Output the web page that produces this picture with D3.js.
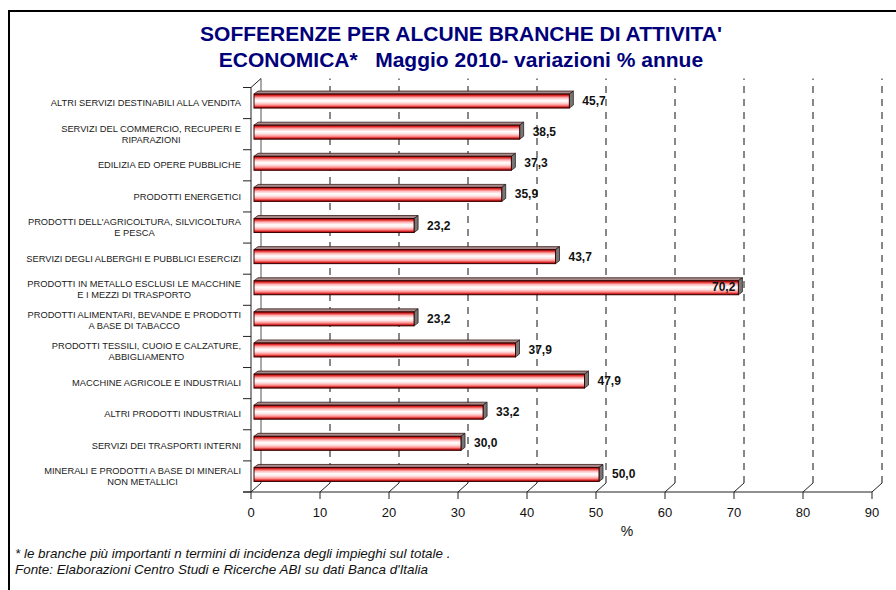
<!DOCTYPE html>
<html>
<head>
<meta charset="utf-8">
<script src="https://cdn.jsdelivr.net/npm/d3@7/dist/d3.min.js"></script>
<style>
  html, body { margin: 0; padding: 0; background: #fff; }
  svg { display: block; font-family: Arial, "Liberation Sans", sans-serif; }
</style>
</head>
<body>
<svg id="chart" width="896" height="590"></svg>
<script>
// ---- DATA ----
const titleLines = ["SOFFERENZE PER ALCUNE BRANCHE DI ATTIVITA'", "ECONOMICA*   Maggio 2010- variazioni % annue"];
const categories = [
  "ALTRI SERVIZI DESTINABILI ALLA VENDITA",
  "SERVIZI DEL COMMERCIO, RECUPERI E\nRIPARAZIONI",
  "EDILIZIA ED OPERE PUBBLICHE",
  "PRODOTTI ENERGETICI",
  "PRODOTTI DELL'AGRICOLTURA, SILVICOLTURA\nE PESCA",
  "SERVIZI DEGLI ALBERGHI E PUBBLICI ESERCIZI",
  "PRODOTTI IN METALLO ESCLUSI LE MACCHINE\nE I MEZZI DI TRASPORTO",
  "PRODOTTI ALIMENTARI, BEVANDE E PRODOTTI\nA BASE DI TABACCO",
  "PRODOTTI TESSILI, CUOIO E CALZATURE,\nABBIGLIAMENTO",
  "MACCHINE AGRICOLE E INDUSTRIALI",
  "ALTRI PRODOTTI INDUSTRIALI",
  "SERVIZI DEI TRASPORTI INTERNI",
  "MINERALI E PRODOTTI A BASE DI MINERALI\nNON METALLICI"
];
const values = [45.7, 38.5, 37.3, 35.9, 23.2, 43.7, 70.2, 23.2, 37.9, 47.9, 33.2, 30.0, 50.0];
const xTicks = [0, 10, 20, 30, 40, 50, 60, 70, 80, 90];
const xAxisTitle = "%";
const footnotes = [
  "* le branche più importanti n termini di incidenza degli impieghi sul totale .",
  "Fonte: Elaborazioni Centro Studi e Ricerche ABI su dati Banca d'Italia"
];

// ---- LAYOUT ----
const svg = d3.select("#chart");
const x = d3.scaleLinear().domain([0, 90]).range([251, 872]);
const y = d3.scaleBand().domain(d3.range(categories.length)).range([87.5, 492]).padding(0);
const backDx = 10, backDy = -9;
const barDx = 4, barDy = -3, barShift = 3;
const yBase = 492, yTop = 87.5;

// frame
svg.append("rect").attr("x", 9).attr("y", 11).attr("width", 900).attr("height", 600)
  .attr("fill", "none").attr("stroke", "#000").attr("stroke-width", 2);

// title
const title = svg.append("text").attr("fill", "#00007a").attr("font-weight", "bold")
  .attr("font-size", 21).attr("text-anchor", "middle").style("white-space", "pre");
titleLines.forEach((t, i) => {
  title.append("tspan").attr("x", 461).attr("y", 41 + i * 25.5).text(t);
});

// gradients
const defs = svg.append("defs");
const g1 = defs.append("linearGradient").attr("id", "front").attr("x1", 0).attr("y1", 0).attr("x2", 0).attr("y2", 1);
[[0, "#900000"], [0.1, "#e02828"], [0.26, "#ffb4b4"], [0.45, "#ffffff"], [0.62, "#ffe4e4"], [0.8, "#ff8c8c"], [0.92, "#d42020"], [1, "#700000"]]
  .forEach(([o, c]) => g1.append("stop").attr("offset", o).attr("stop-color", c));

// back wall / gridlines
const grid = svg.append("g");
xTicks.forEach(v => {
  const gx = x(v) + backDx;
  grid.append("line").attr("x1", gx).attr("x2", gx)
    .attr("y1", yBase + backDy).attr("y2", yTop + backDy)
    .attr("stroke", v === 0 ? "#555" : "#111").attr("stroke-width", 1)
    .attr("stroke-dasharray", v === 0 ? null : "7,6");
  // floor diagonal
  grid.append("line").attr("x1", x(v)).attr("y1", yBase).attr("x2", gx).attr("y2", yBase + backDy)
    .attr("stroke", "#222").attr("stroke-width", 1);
});
// top-left diagonal
grid.append("line").attr("x1", x(0)).attr("y1", yTop).attr("x2", x(0) + backDx).attr("y2", yTop + backDy)
  .attr("stroke", "#222").attr("stroke-width", 1);

// axes
const axes = svg.append("g").attr("stroke", "#222").attr("stroke-width", 1);
axes.append("line").attr("x1", x(0)).attr("x2", x(0)).attr("y1", yTop).attr("y2", yBase);
axes.append("line").attr("x1", x(0) - 8).attr("x2", x(90)).attr("y1", yBase).attr("y2", yBase);
d3.range(categories.length + 1).forEach(i => {
  const yy = i < categories.length ? y(i) : yBase;
  axes.append("line").attr("x1", x(0) - 8).attr("x2", x(0)).attr("y1", yy).attr("y2", yy);
});
xTicks.forEach(v => {
  axes.append("line").attr("x1", x(v)).attr("x2", x(v)).attr("y1", yBase).attr("y2", yBase + 7);
});

// tick labels
svg.append("g").selectAll("text").data(xTicks).join("text")
  .attr("x", d => x(d)).attr("y", 517).attr("text-anchor", "middle")
  .attr("font-size", 13).attr("fill", "#111").text(d => d);
svg.append("text").attr("x", 627).attr("y", 536).attr("text-anchor", "middle")
  .attr("font-size", 14).attr("fill", "#111").text(xAxisTitle);

// category labels
const catG = svg.append("g").attr("font-size", 9.3).attr("fill", "#1a1a1a");
categories.forEach((c, i) => {
  const lines = c.split("\n");
  const cy = y(i) + y.bandwidth() / 2;
  const t = catG.append("text").attr("text-anchor", "middle");
  const spans = lines.map((l, j) => t.append("tspan").text(l)
    .attr("y", lines.length === 1 ? cy + 3.2 : cy - 2.5 + j * 11));
  const maxW = d3.max(spans, s => s.node().getComputedTextLength());
  const cx = x(0) - 10 - maxW / 2;
  spans.forEach(s => s.attr("x", cx));
});

// bars
const bars = svg.append("g");
const fmt = d3.format(".1f");
values.forEach((v, i) => {
  const cy = y(i) + y.bandwidth() / 2;
  const x0 = x(0) + barShift, x1 = x(v) + barShift;
  const t = cy - 9, b = cy + 5;
  // top face
  bars.append("path")
    .attr("d", `M${x0},${t}L${x0 + barDx},${t + barDy}L${x1 + barDx},${t + barDy}L${x1},${t}Z`)
    .attr("fill", "#a88c8c").attr("stroke", "#3a1a1a").attr("stroke-width", 0.8);
  // side face
  bars.append("path")
    .attr("d", `M${x1},${t}L${x1 + barDx},${t + barDy}L${x1 + barDx},${b + barDy}L${x1},${b}Z`)
    .attr("fill", "#777").attr("stroke", "#2a1a1a").attr("stroke-width", 0.8);
  // front face
  bars.append("rect").attr("x", x0).attr("y", t).attr("width", x1 - x0).attr("height", b - t)
    .attr("fill", "url(#front)").attr("stroke", "#3a0000").attr("stroke-width", 1);
});

// value labels
const lab = svg.append("g").attr("font-size", 12).attr("font-weight", "bold").attr("fill", "#111");
values.forEach((v, i) => {
  const cy = y(i) + y.bandwidth() / 2;
  const txt = fmt(v).replace(".", ",");
  const inside = v > 60;
  lab.append("text")
    .attr("x", inside ? x(v) : x(v) + barShift + 13)
    .attr("y", inside ? cy + 1 : cy + 2)
    .attr("text-anchor", inside ? "end" : "start")
    .text(txt);
});

// footnotes
const fn = svg.append("g").attr("font-size", 13.4).attr("font-style", "italic").attr("fill", "#111");
footnotes.forEach((f, i) => {
  fn.append("text").attr("x", 15).attr("y", 558 + i * 16).text(f);
});
</script>
</body>
</html>
